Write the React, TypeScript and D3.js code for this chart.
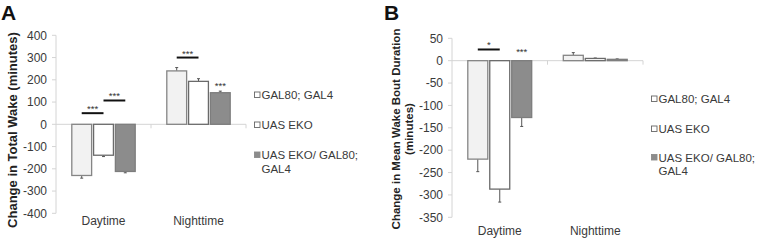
import React from "react";
import * as d3 from "d3";

const categories = ["Daytime", "Nighttime"];
const seriesNames = ["GAL80; GAL4", "UAS EKO", "UAS EKO/ GAL80; GAL4"];

// values per series, per category
const wakeValues = [
  [-230, 240],
  [-139, 193],
  [-212, 142],
];
const wakeErrors = [
  [12, 15],
  [6, 12],
  [6, 7],
];
const boutValues = [
  [-220, 12],
  [-287, 5],
  [-127, 3],
];
const boutErrors = [
  [28, 6],
  [29, 1],
  [20, 1],
];
const wakeTicks = [400, 300, 200, 100, 0, -100, -200, -300, -400];
const boutTicks = [50, 0, -50, -100, -150, -200, -250, -300, -350];

const wakeSig = [
  { cat: 0, from: 0, to: 1, value: 50, label: "***" },
  { cat: 0, from: 1, to: 2, value: 107, label: "***" },
  { cat: 1, from: 0, to: 1, value: 300, label: "***" },
  { cat: 1, from: 2, to: 2, value: 184, label: "***" },
];
const boutSig = [
  { cat: 0, from: 0, to: 1, value: 25, label: "*" },
  { cat: 0, from: 2, to: 2, value: 24, label: "***" },
];

const FONT = "'Liberation Sans', Arial, Helvetica, sans-serif";
const fills = ["#f2f2f2", "#ffffff", "#8c8c8c"];
const strokes = ["#858585", "#6a6a6a", "#7d7d7d"];
const AXIS = "#d4d4d4";
const TEXT = "#3a3a3a";

function wrap(s: string, max: number): string[] {
  if (s.length <= max) return [s];
  const i = s.lastIndexOf(" ", max);
  return [s.slice(0, i), s.slice(i + 1)];
}

type Sig = { cat: number; from: number; to: number; value: number; label: string };

function Panel(props: {
  letter: string;
  letterX: number;
  x0: number;
  x1: number;
  yTop: number;
  yBottom: number;
  domain: [number, number];
  ticks: number[];
  values: number[][];
  errors: number[][];
  sig: Sig[];
  titleLines: string[];
  titleX: number[];
  titleSize: number;
  titleY: number;
  catY: number;
  legX: number;
  legY: number[];
}) {
  const p = props;
  const y = d3.scaleLinear().domain(p.domain).range([p.yBottom, p.yTop]);
  const x = d3.scaleBand<string>().domain(categories).range([p.x0, p.x1]).padding(0);
  const inner = d3
    .scaleBand<number>()
    .domain(seriesNames.map((_, i) => i))
    .range([15.8, x.bandwidth() - 15.8])
    .paddingInner(0.09);
  const y0 = y(0);
  const bx = (c: number, s: number) => (x(categories[c]) as number) + (inner(s) as number);
  const bcx = (c: number, s: number) => bx(c, s) + inner.bandwidth() / 2;

  return (
    <g>
      <text x={p.letterX} y={20} fontSize={21} fontWeight="bold" fontFamily={FONT} fill="#111">
        {p.letter}
      </text>
      {p.titleLines.map((t, i) => (
        <text
          key={t}
          transform={`translate(${p.titleX[i]},${p.titleY}) rotate(-90)`}
          textAnchor="middle"
          fontSize={p.titleSize}
          fontWeight="bold"
          fontFamily={FONT}
          fill="#222"
        >
          {t}
        </text>
      ))}
      {/* y axis */}
      <line x1={p.x0} x2={p.x0} y1={p.yTop} y2={p.yBottom} stroke={AXIS} />
      {p.ticks.map((t) => (
        <g key={t}>
          <line x1={p.x0 - 4} x2={p.x0} y1={y(t)} y2={y(t)} stroke={AXIS} />
          <text
            x={p.x0 - 9}
            y={y(t)}
            dy="0.35em"
            textAnchor="end"
            fontSize={12}
            fontFamily={FONT}
            fill={TEXT}
          >
            {t}
          </text>
        </g>
      ))}
      {/* x axis at zero */}
      <line x1={p.x0} x2={p.x1} y1={y0} y2={y0} stroke={AXIS} />
      {categories.map((c) => (
        <line
          key={c}
          x1={(x(c) as number) + x.bandwidth()}
          x2={(x(c) as number) + x.bandwidth()}
          y1={y0}
          y2={y0 + 4}
          stroke={AXIS}
        />
      ))}
      {categories.map((c) => (
        <text
          key={c}
          x={(x(c) as number) + x.bandwidth() / 2}
          y={p.catY}
          textAnchor="middle"
          fontSize={12}
          fontFamily={FONT}
          fill={TEXT}
        >
          {c}
        </text>
      ))}
      {/* bars */}
      {p.values.map((vals, s) =>
        vals.map((v, c) => {
          const top = Math.min(y(v), y0);
          const h = Math.abs(y(v) - y0);
          const e = p.errors[s][c];
          const ye = y(v >= 0 ? v + e : v - e);
          const cx = bcx(c, s);
          return (
            <g key={`${s}-${c}`}>
              <line x1={cx} x2={cx} y1={y(v)} y2={ye} stroke="#555" strokeWidth={1} />
              <line x1={cx - 1.5} x2={cx + 1.5} y1={ye} y2={ye} stroke="#555" strokeWidth={1} />
              <rect
                x={bx(c, s)}
                y={top}
                width={inner.bandwidth()}
                height={h}
                fill={fills[s]}
                stroke={strokes[s]}
                strokeWidth={1.3}
              />
            </g>
          );
        })
      )}
      {/* significance */}
      {p.sig.map((sg, i) => {
        const xa = bcx(sg.cat, sg.from);
        const xb = bcx(sg.cat, sg.to);
        const yy = y(sg.value);
        const single = sg.from === sg.to;
        const starY = single ? yy : yy - 6.5;
        return (
          <g key={i}>
            {!single && <line x1={xa} x2={xb} y1={yy} y2={yy} stroke="#111" strokeWidth={2} />}
            <text
              x={(xa + xb) / 2}
              y={starY + 5.5}
              textAnchor="middle"
              fontSize={9.5}
              fontFamily={FONT}
              fill="#333"
            >
              {sg.label}
            </text>
          </g>
        );
      })}
      {/* legend */}
      {seriesNames.map((n, s) => {
        const lines = wrap(n, 16);
        const cy = p.legY[s];
        return (
          <g key={n}>
            <rect
              x={p.legX}
              y={cy - 3}
              width={5.5}
              height={5.5}
              fill={s === 2 ? fills[2] : "#fff"}
              stroke={s === 2 ? fills[2] : "#666"}
              strokeWidth={0.9}
            />
            <text x={p.legX + 7} y={cy} fontSize={11.5} fontFamily={FONT} fill={TEXT}>
              {lines.map((l, k) => (
                <tspan key={k} x={p.legX + 7} dy={k === 0 ? "0.35em" : 13.5}>
                  {l}
                </tspan>
              ))}
            </text>
          </g>
        );
      })}
    </g>
  );
}

export default function App() {
  return (
    <div style={{ position: "fixed", left: 0, top: 0, width: 763, height: 241, background: "#fff" }}>
      <svg width={763} height={241} style={{ display: "block" }}>
        <rect width={763} height={241} fill="#fff" />
        <Panel
          letter="A"
          letterX={1}
          x0={56}
          x1={246}
          yTop={35.3}
          yBottom={213.3}
          domain={[-400, 400]}
          ticks={wakeTicks}
          values={wakeValues}
          errors={wakeErrors}
          sig={wakeSig}
          titleLines={["Change in Total Wake (minutes)"]}
          titleX={[17]}
          titleSize={13}
          titleY={130}
          catY={225}
          legX={254.5}
          legY={[95, 125, 155]}
        />
        <Panel
          letter="B"
          letterX={384}
          x0={452}
          x1={643}
          yTop={38.3}
          yBottom={217.3}
          domain={[-350, 50]}
          ticks={boutTicks}
          values={boutValues}
          errors={boutErrors}
          sig={boutSig}
          titleLines={["Change in Mean Wake Bout Duration", "(minutes)"]}
          titleX={[400, 412.5]}
          titleSize={11.5}
          titleY={129}
          catY={235}
          legX={651.5}
          legY={[99, 129, 157.5]}
        />
      </svg>
    </div>
  );
}
